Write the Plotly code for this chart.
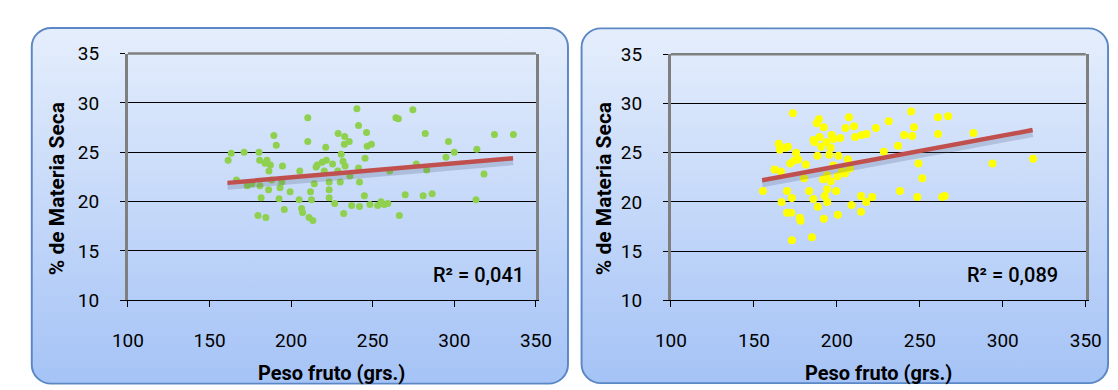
import base64
import plotly.graph_objects as go

# ---------------- data ----------------
left_x = [161.4, 163.3, 166.5, 171.2, 173.1, 180.3, 180.7, 180.9, 179.7, 181.6,
          184.5, 185.2, 186.4, 186.2, 187.3, 189.4, 190.9, 193.2, 192.6, 194.7,
          194.3, 195.8, 199.4, 205.3, 204.9, 206.4, 207.0, 210.2, 210.2, 211.9,
          211.0, 213.3, 212.5, 214.2, 215.3, 220.3, 221.2, 221.6, 223.3, 223.3,
          223.3, 226.7, 225.4, 228.8, 228.6, 230.1, 230.7, 231.8, 232.8, 232.6,
          233.1, 232.2, 235.6, 237.1, 240.3, 241.3, 241.3, 241.9, 241.9, 245.3,
          246.2, 244.9, 246.6, 249.2, 248.3, 253.0, 255.1, 259.3, 260.4, 264.2,
          265.7, 266.3, 269.9, 274.6, 276.7, 282.2, 280.9, 283.1, 286.4, 294.9,
          296.4, 300.0, 313.8, 313.3, 318.2, 324.6, 336.2, 184.0, 188.0, 176.0,
          219.0, 236.0, 257.0, 216.0]
left_y = [24.2, 24.9, 22.2, 25.0, 21.6, 25.0, 24.2, 21.6, 18.6, 20.4,
          18.4, 24.2, 23.1, 21.2, 23.7, 26.7, 25.7, 21.4, 20.3, 23.6,
          22.0, 19.2, 21.0, 23.1, 20.2, 19.3, 18.9, 28.5, 26.1, 21.0,
          18.4, 18.1, 20.2, 21.8, 23.5, 23.1, 25.5, 24.2, 22.0, 21.2,
          20.4, 19.8, 23.8, 26.9, 23.1, 22.0, 24.8, 24.1, 26.6, 25.8,
          23.6, 18.8, 26.1, 19.6, 29.4, 27.7, 23.4, 22.0, 19.5, 24.4,
          27.0, 20.6, 25.6, 25.8, 19.7, 19.6, 20.0, 19.8, 23.1, 28.5,
          28.4, 18.6, 20.7, 29.3, 23.8, 26.9, 20.6, 23.2, 20.8, 24.5,
          26.1, 25.0, 25.3, 20.2, 22.8, 26.8, 26.8, 23.9, 22.2, 21.8,
          24.0, 22.6, 19.7, 23.7]

right_x = [155.4, 162.5, 165.0, 165.6, 166.3, 166.7, 169.2, 170.0, 170.0, 172.5,
           171.9, 172.9, 173.5, 172.9, 174.2, 175.4, 176.7, 177.7, 178.1, 180.2,
           181.3, 183.3, 185.0, 185.8, 186.5, 187.9, 188.5, 188.3, 189.2, 189.6,
           190.6, 192.1, 192.1, 192.7, 193.8, 194.2, 194.2, 194.2, 195.4, 196.3,
           196.9, 197.9, 199.6, 200.4, 200.6, 201.0, 202.1, 203.1, 205.2, 206.7,
           207.3, 207.9, 208.8, 210.4, 211.0, 214.6, 214.6, 215.0, 217.7, 217.9,
           221.3, 223.5, 228.3, 231.3, 236.9, 238.0, 240.6, 244.8, 245.4, 246.5,
           248.5, 249.2, 251.5, 261.0, 261.0, 263.5, 265.0, 267.1, 282.3, 293.8,
           318.3, 191.7, 196.3, 197.9, 205.0, 170.5, 186.0]
right_y = [21.1, 23.3, 25.9, 25.3, 23.1, 20.0, 25.5, 21.1, 18.9, 18.9,
           23.9, 20.4, 29.0, 16.1, 24.2, 25.0, 24.3, 18.4, 18.1, 22.4,
           23.8, 21.1, 16.4, 20.3, 26.1, 28.0, 19.5, 24.7, 28.4, 26.6,
           25.6, 27.6, 18.3, 20.6, 26.1, 22.7, 21.3, 20.0, 24.8, 25.5,
           26.8, 26.4, 21.1, 22.6, 18.7, 24.7, 26.5, 23.1, 27.5, 24.3,
           28.6, 23.4, 19.7, 27.7, 26.6, 20.6, 19.0, 26.8, 20.0, 26.9,
           20.5, 27.5, 25.1, 28.2, 25.7, 21.1, 26.8, 29.2, 26.7, 27.6,
           20.5, 23.9, 22.4, 28.6, 26.9, 20.5, 20.6, 28.7, 27.0, 23.9,
           24.4, 22.3, 22.1, 23.7, 22.9, 25.6, 26.3]

left_trend_x = [161.0, 336.0]
left_trend_y = [21.9, 24.4]
right_trend_x = [155.0, 318.0]
right_trend_y = [22.2, 27.3]

left_r2 = "R² = 0,041"
right_r2 = "R² = 0,089"

x_ticks = [100, 150, 200, 250, 300, 350]
y_ticks = [10, 15, 20, 25, 30, 35]
x_title = "Peso fruto (grs.)"
y_title = "% de Materia Seca"

# ---------------- styling ----------------
W, H = 1118, 390
FONT = "Roboto, Open Sans, DejaVu Sans, sans-serif"
GREEN = "#8FD14F"
YELLOW = "#FFFF00"
TREND = "#C0504D"

svg = f'''<svg xmlns="http://www.w3.org/2000/svg" width="{W}" height="{H}" viewBox="0 0 {W} {H}" preserveAspectRatio="none">
<defs><linearGradient id="g" x1="0" y1="0" x2="0" y2="1">
<stop offset="0" stop-color="#E5EEFC"/><stop offset="1" stop-color="#A5C3F6"/></linearGradient></defs>
<rect x="8" y="9.5" width="552" height="378" rx="20" ry="20" fill="url(#g)" stroke="#5B87C5" stroke-width="2"/>
<rect x="574" y="10" width="542" height="377" rx="20" ry="20" fill="url(#g)" stroke="#5B87C5" stroke-width="2"/>
</svg>'''
src = "data:image/svg+xml;base64," + base64.b64encode(svg.encode()).decode()

fig = go.Figure()

panels = [
    dict(xs=left_x, ys=left_y, tx=left_trend_x, ty=left_trend_y, color=GREEN, size=7,
         r2=left_r2, xa="x", ya="y", dom_x=(107, 527), dom_y=(36.7, 299),
         r2pos=(468, 272), ytpos=(34, 181)),
    dict(xs=right_x, ys=right_y, tx=right_trend_x, ty=right_trend_y, color=YELLOW, size=8,
         r2=right_r2, xa="x2", ya="y2", dom_x=(666, 1093), dom_y=(37.5, 299),
         r2pos=(1018, 272), ytpos=(597, 180)),
]

annotations = []
shapes = []
for i, p in enumerate(panels):
    fig.add_trace(go.Scatter(x=p["xs"], y=p["ys"], mode="markers",
                             marker=dict(color=p["color"], size=p["size"], line=dict(width=0)),
                             xaxis=p["xa"], yaxis=p["ya"], showlegend=False, hoverinfo="x+y"))
    # soft shadow under the trend line
    fig.add_trace(go.Scatter(x=p["tx"], y=[v - 0.35 for v in p["ty"]], mode="lines",
                             line=dict(color="rgba(70,80,120,0.22)", width=7),
                             xaxis=p["xa"], yaxis=p["ya"], showlegend=False, hoverinfo="skip"))
    fig.add_trace(go.Scatter(x=p["tx"], y=p["ty"], mode="lines",
                             line=dict(color=TREND, width=4.5),
                             xaxis=p["xa"], yaxis=p["ya"], showlegend=False, hoverinfo="skip"))
    sfx = "" if i == 0 else "2"
    xd = [p["dom_x"][0] / W, p["dom_x"][1] / W]
    yd = [1 - p["dom_y"][1] / H, 1 - p["dom_y"][0] / H]
    fig.update_layout(**{
        "xaxis" + sfx: dict(domain=xd, range=[100, 350], tickvals=x_ticks, ticks="outside",
                            ticklen=6, tickcolor="black", tickwidth=1, showgrid=False,
                            showline=True, linecolor="black", linewidth=1, zeroline=False,
                            anchor="y" + sfx, ticklabelstandoff=17,
                            tickfont=dict(family=FONT, size=19, color="black")),
        "yaxis" + sfx: dict(domain=yd, range=[10, 35], tickvals=y_ticks, ticks="outside",
                            ticklen=5, tickcolor="black", tickwidth=1, showgrid=True,
                            gridcolor="black", gridwidth=1, showline=True, linecolor="#7F7F7F",
                            linewidth=3, mirror=True, zeroline=False, anchor="x" + sfx,
                            ticklabelstandoff=17,
                            tickfont=dict(family=FONT, size=19, color="black")),
    })
    shapes.append(dict(type="line", xref=p["xa"] + " domain", yref=p["ya"] + " domain",
                       x0=0, x1=1, y0=1, y1=1, line=dict(color="#7F7F7F", width=2.5)))
    annotations.append(dict(text=p["r2"], xref="paper", yref="paper",
                            x=p["r2pos"][0] / W, y=1 - p["r2pos"][1] / H,
                            showarrow=False, xanchor="center", yanchor="middle",
                            font=dict(family=FONT, size=20, color="black", weight=500)))
    annotations.append(dict(text=f"<b>{x_title}</b>", xref="paper", yref="paper",
                            x=(p["dom_x"][0] + p["dom_x"][1]) / 2 / W, y=1 - 376 / H,
                            showarrow=False, xanchor="center", yanchor="middle",
                            font=dict(family=FONT, size=20, color="black")))
    annotations.append(dict(text=f"<b>{y_title}</b>", xref="paper", yref="paper",
                            x=p["ytpos"][0] / W, y=1 - p["ytpos"][1] / H, textangle=-90,
                            showarrow=False, xanchor="center", yanchor="middle",
                            font=dict(family=FONT, size=21, color="black")))

fig.update_layout(
    width=W, height=H, autosize=False,
    margin=dict(l=0, r=0, t=0, b=0),
    paper_bgcolor="white", plot_bgcolor="rgba(0,0,0,0)",
    images=[dict(source=src, xref="paper", yref="paper", x=0, y=1, sizex=1, sizey=1,
                 xanchor="left", yanchor="top", sizing="stretch", layer="below")],
    annotations=annotations, shapes=shapes,
)

fig.write_html("out.html")
